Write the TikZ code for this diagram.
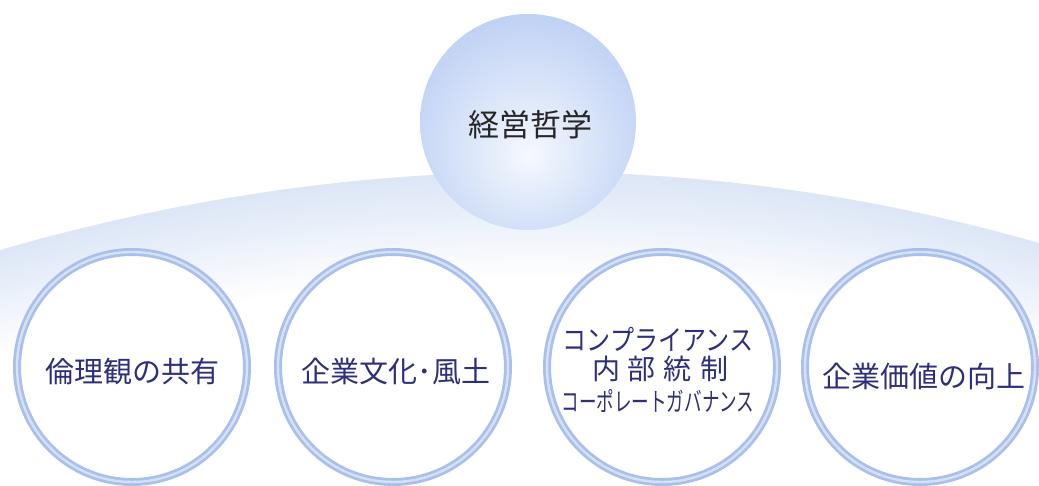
\documentclass[tikz,border=0pt]{standalone}
\usepackage{fontspec}
\newfontfamily\jp{Noto Sans CJK JP}
\usetikzlibrary{calc}
\definecolor{bandc}{HTML}{DCE6F6}
\definecolor{ringc}{HTML}{A9C0EC}
\definecolor{ringl}{HTML}{D5E1F7}
\definecolor{txtc}{HTML}{2E2F7A}
\definecolor{toptxt}{HTML}{262626}
\definecolor{ballA}{HTML}{F6F9FE}
\definecolor{ballB}{HTML}{E6EEFB}
\definecolor{ballC}{HTML}{BFD1F4}
\definecolor{ballD}{HTML}{98B4EB}
\pgfdeclareradialshading{ballshade}{\pgfpoint{0bp}{-8bp}}{color(0bp)=(ballA); color(8bp)=(ballB); color(30bp)=(ballC); color(52bp)=(ballD); color(80bp)=(ballD)}
\begin{document}
\begin{tikzpicture}[x=1pt,y=-1pt,
  ringnode/.style={circle, minimum size=230pt, inner sep=0pt, fill=white, draw=ringc, line width=8pt},
  ringin/.style={draw=ringl, line width=2.4pt},
  lbl/.style={font=\jp\fontsize{29pt}{32pt}\selectfont, text=txtc, inner sep=0pt},
  ballnode/.style={circle, minimum size=216pt, inner sep=0pt, shading=ballshade}]
\useasboundingbox (0,0) rectangle (1039,486);
\fill[white] (0,0) rectangle (1039,486);
% band fading downward
\foreach \i in {0,...,30}{
  \pgfmathsetmacro{\pc}{100-\i*100/30}
  \fill[bandc!\pc!white] (0,250+\i*3.5) .. controls (353.3,148.3+\i*3.5) and (699.7,146+\i*3.5) .. (1039,243+\i*3.5) -- (1039,486) -- (0,486) -- cycle;
}
% top ball
\node[ballnode] (ball) at (528,122) {};
\node[font=\jp\fontsize{31pt}{34pt}\selectfont, text=toptxt, inner sep=0pt] (balltxt) at (530,125) {経営哲学};
% rings
\node[ringnode] (r1) at (132,367) {};
\node[ringnode] (r2) at (393,367) {};
\node[ringnode] (r3) at (662,367) {};
\node[ringnode] (r4) at (920,367) {};
\foreach \r in {r1,r2,r3,r4}{\draw[ringin] (\r.center) circle[radius=115];}
\node[lbl] (t1) at (132,371) {倫理観の共有};
\node[lbl] (t2) at (396,371) {企業文化･風土};
\node[lbl] (t3a) at (658,339) {\scalebox{0.86}[1]{\fontsize{28pt}{30pt}\selectfont コンプライアンス}};
\node[lbl] (t3b) at (660,369) {\fontsize{28pt}{30pt}\selectfont 内\hspace{8pt}部\hspace{8pt}統\hspace{8pt}制};
\node[lbl] (t3c) at (658,401) {\scalebox{0.675}[1]{\fontsize{26pt}{28pt}\selectfont コーポレートガバナンス}};
\node[lbl] (t4) at (924,376) {企業価値の向上};
\end{tikzpicture}
\end{document}
